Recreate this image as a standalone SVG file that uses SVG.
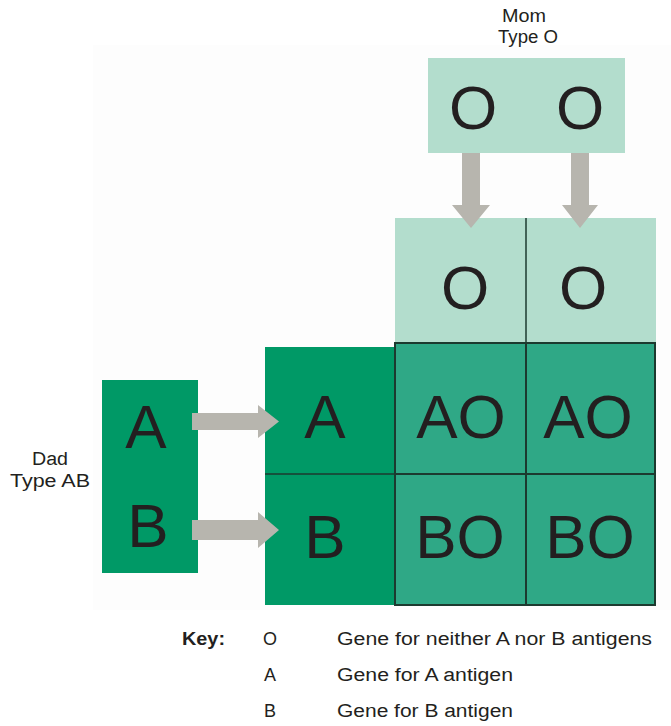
<svg xmlns="http://www.w3.org/2000/svg" width="671" height="726" viewBox="0 0 671 726">
<style>
.lbl{font-family:"Liberation Sans",Arial,sans-serif;font-size:18px;fill:#231f20}
.big{font-family:"Liberation Sans",Arial,sans-serif;font-size:62px;fill:#231f20;text-anchor:middle}
.mint{fill:#b3ddcd}
.dark{fill:#009966}
.cell{fill:#2fa886}
.arrow{fill:#b7b5ae}
.line{stroke:#1c3a2f;stroke-width:2;fill:none}
</style>
<rect width="671" height="726" fill="#ffffff"/>
<rect x="93" y="45" width="578" height="565" fill="#fdfdfd"/>

<g id="mom-label">
<text class="lbl" x="524" y="22" text-anchor="middle" textLength="44" lengthAdjust="spacingAndGlyphs">Mom</text>
<text class="lbl" x="528" y="43" text-anchor="middle" textLength="60" lengthAdjust="spacingAndGlyphs">Type O</text>
</g>

<g id="mom">
<rect class="mint" x="428" y="58" width="197" height="95"/>
<text class="big" x="473" y="129">O</text>
<text class="big" x="580" y="129">O</text>
</g>

<g id="mom-alleles">
<rect class="mint" x="395" y="218" width="261" height="125"/>
<line class="line" x1="526" y1="218" x2="526" y2="343" style="stroke-width:1.5"/>
<text class="big" x="465" y="309">O</text>
<text class="big" x="583" y="309">O</text>
</g>

<g id="dad-label">
<text class="lbl" x="50" y="465" text-anchor="middle" textLength="36" lengthAdjust="spacingAndGlyphs">Dad</text>
<text class="lbl" x="50" y="487" text-anchor="middle" textLength="80" lengthAdjust="spacingAndGlyphs">Type AB</text>
</g>

<g id="dad">
<rect class="dark" x="102" y="380" width="96" height="193"/>
<text class="big" x="146" y="448">A</text>
<text class="big" x="148" y="547">B</text>
</g>

<g id="dad-alleles">
<rect class="dark" x="265" y="347" width="130" height="258"/>
<line class="line" x1="265" y1="474" x2="395" y2="474" style="stroke-width:1.5"/>
<text class="big" x="325" y="438">A</text>
<text class="big" x="325" y="558">B</text>
</g>

<g id="offspring">
<rect class="cell" x="395" y="343" width="260" height="262"/>
<rect class="line" x="395" y="343" width="260" height="262"/>
<line class="line" x1="526" y1="343" x2="526" y2="605"/>
<line class="line" x1="395" y1="474" x2="655" y2="474"/>
<text class="big" x="461" y="438">AO</text>
<text class="big" x="588" y="438">AO</text>
<text class="big" x="460" y="558">BO</text>
<text class="big" x="590" y="558">BO</text>
</g>

<g id="connectors">
<polygon class="arrow" points="462,153 480,153 480,205 490,205 471,228 452,205 462,205"/>
<polygon class="arrow" points="571,153 589,153 589,205 598,205 580,228 562,205 571,205"/>
<polygon class="arrow" points="192,413 258,413 258,405 279,421.5 258,438 258,430 192,430"/>
<polygon class="arrow" points="192,520 258,520 258,512 279,530 258,548 258,540 192,540"/>
</g>

<g id="key">
<text class="lbl" x="182" y="645" font-weight="bold" textLength="43" lengthAdjust="spacingAndGlyphs">Key:</text>
<text class="lbl" x="263" y="645">O</text>
<text class="lbl" x="337" y="645" textLength="315" lengthAdjust="spacingAndGlyphs">Gene for neither A nor B antigens</text>
<text class="lbl" x="264" y="681">A</text>
<text class="lbl" x="337" y="681" textLength="176" lengthAdjust="spacingAndGlyphs">Gene for A antigen</text>
<text class="lbl" x="264" y="717">B</text>
<text class="lbl" x="337" y="717" textLength="176" lengthAdjust="spacingAndGlyphs">Gene for B antigen</text>
</g>
</svg>
